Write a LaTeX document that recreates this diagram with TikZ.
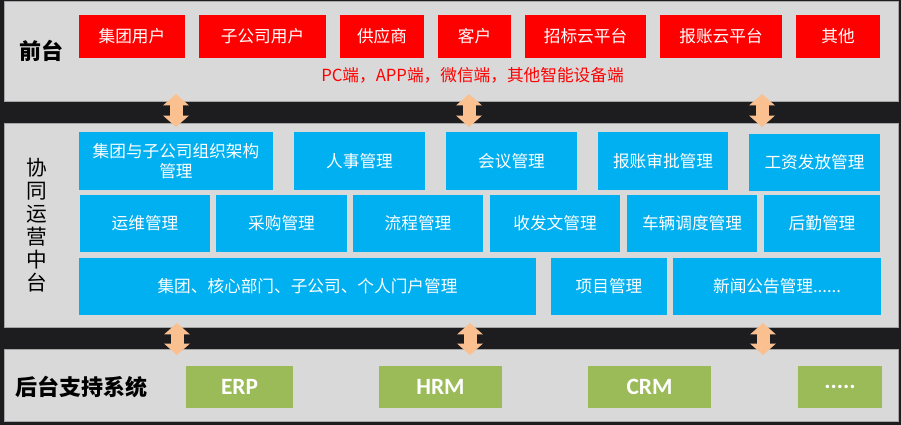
\documentclass[tikz,border=0pt]{standalone}
\usepackage{fontspec}
\setmainfont{Noto Sans CJK SC}
\newfontfamily\enfont{Carlito}
\usetikzlibrary{arrows.meta}

\definecolor{bgdark}{HTML}{1D1D20}
\definecolor{panelgray}{HTML}{D9D9D9}
\definecolor{boxblue}{HTML}{00B0F0}
\definecolor{boxgreen}{HTML}{9BBB59}
\definecolor{peach}{HTML}{FAC090}

\tikzset{
  panel/.style={fill=panelgray, draw=gray!70, line width=0.75pt},
  redbox/.style={fill=red},
  bluebox/.style={fill=boxblue},
  greenbox/.style={fill=boxgreen},
  wtext/.style={text=white, align=center, font=\fontsize{12.5}{15}\selectfont},
  entext/.style={text=white, font=\enfont\bfseries\fontsize{17.5}{20}\selectfont},
  title/.style={font=\bfseries\fontsize{16.5}{20}\selectfont},
  vtitle/.style={align=center, font=\fontsize{15.5}{17.25}\selectfont},
  tip/.style={Triangle[width=19.5pt,length=8.6pt,line width=0pt]},
  link/.style={draw=peach, line width=9.75pt, {Triangle[width=19.5pt,length=8.6pt,line width=0pt]}-{Triangle[width=19.5pt,length=8.6pt,line width=0pt]}}
}

\begin{document}
\begin{tikzpicture}[x=0.75pt,y=-0.75pt]
\useasboundingbox (0,0) rectangle (901,425);
\fill[bgdark] (0,0) rectangle (901,425);

% panels
\draw[panel] (4,1) rectangle (898,101);
\draw[panel] (4,123) rectangle (898,327);
\draw[panel] (4,349) rectangle (898,421);

% front
\node[title] (front) at (41,51) {前台};
\fill[redbox] (79,15) rectangle (185,58);
\fill[redbox] (199,15) rectangle (326,58);
\fill[redbox] (340,15) rectangle (424,58);
\fill[redbox] (438,15) rectangle (511,58);
\fill[redbox] (525,15) rectangle (646,58);
\fill[redbox] (660,15) rectangle (782,58);
\fill[redbox] (796,15) rectangle (880,58);
\node[wtext] (jtyh) at (132,36.5) {集团用户};
\node[wtext] (zgsyh) at (262.5,36.5) {子公司用户};
\node[wtext] (gys) at (382,36.5) {供应商};
\node[wtext] (kh) at (474.5,36.5) {客户};
\node[wtext] (zbypt) at (585.5,36.5) {招标云平台};
\node[wtext] (bzypt) at (721,36.5) {报账云平台};
\node[wtext] (qt) at (838,36.5) {其他};
\node[wtext, text=red] (ends) at (472.5,75) {PC端，APP端，微信端，其他智能设备端};

% middle
\node[vtitle] (mid) at (37,225) {协\\同\\运\\营\\中\\台};
\fill[bluebox] (79,132) rectangle (273,190);
\fill[bluebox] (294,132) rectangle (425,190);
\fill[bluebox] (446,132) rectangle (577,190);
\fill[bluebox] (598,132) rectangle (728,190);
\fill[bluebox] (749,134) rectangle (880,191);
\node[wtext] (zzjg) at (176,161) {集团与子公司组织架构\\管理};
\node[wtext] (rs) at (359.5,161) {人事管理};
\node[wtext] (hy) at (511.5,161) {会议管理};
\node[wtext] (bzsp) at (663,161) {报账审批管理};
\node[wtext] (gz) at (814.5,162.5) {工资发放管理};

\fill[bluebox] (80,195) rectangle (210,252);
\fill[bluebox] (216,195) rectangle (347,252);
\fill[bluebox] (353,195) rectangle (483,252);
\fill[bluebox] (490,195) rectangle (620,252);
\fill[bluebox] (627,195) rectangle (757,252);
\fill[bluebox] (764,195) rectangle (880,252);
\node[wtext] (yw) at (145,223.5) {运维管理};
\node[wtext] (cg) at (281.5,223.5) {采购管理};
\node[wtext] (lc) at (418,223.5) {流程管理};
\node[wtext] (sfw) at (555,223.5) {收发文管理};
\node[wtext] (cl) at (692,223.5) {车辆调度管理};
\node[wtext] (hq) at (822,223.5) {后勤管理};

\fill[bluebox] (79,258) rectangle (536,315);
\fill[bluebox] (551,258) rectangle (667,315);
\fill[bluebox] (673,258) rectangle (881,315);
\node[wtext] (mh) at (307.5,286.5) {集团、核心部门、子公司、个人门户管理};
\node[wtext] (xm) at (609,286.5) {项目管理};
\node[wtext] (xw) at (777,286.5) {新闻公告管理......};

% back
\node[title] (back) at (81.5,387) {后台支持系统};
\fill[greenbox] (186,366) rectangle (293,408);
\fill[greenbox] (379,366) rectangle (502,408);
\fill[greenbox] (588,366) rectangle (711,408);
\fill[greenbox] (798,366) rectangle (882,408);
\node[entext] (erp) at (239.5,387) {ERP};
\node[entext] (hrm) at (440.5,387) {HRM};
\node[entext] (crm) at (649.5,387) {CRM};
\node[entext] (more) at (840,387) {.....};

% arrows
\foreach \x [count=\i] in {176,469,762} {
  \coordinate (ua\i) at (\x,94);
  \coordinate (ub\i) at (\x,127);
  \coordinate (da\i) at (\x+1,323);
  \coordinate (db\i) at (\x+1,355);
  \draw[link] (ua\i) -- (ub\i);
  \draw[link] (da\i) -- (db\i);
}
\end{tikzpicture}
\end{document}
